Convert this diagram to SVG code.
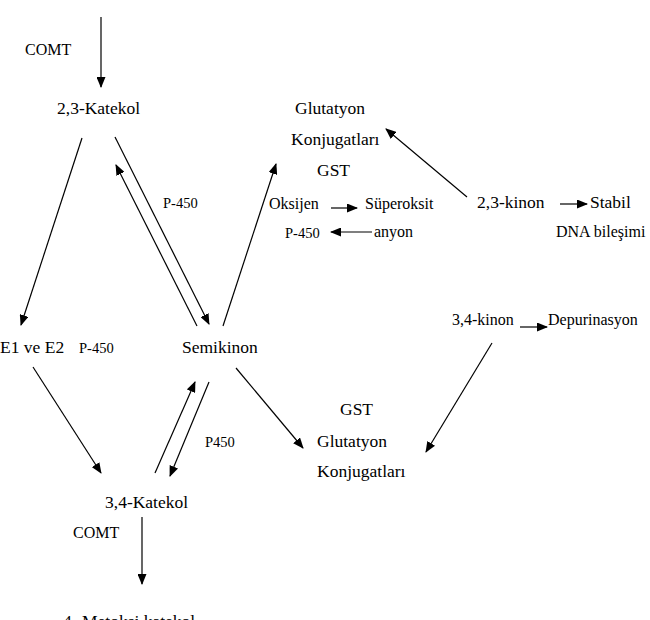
<svg xmlns="http://www.w3.org/2000/svg" width="650" height="620" viewBox="0 0 650 620">
<style>
text{font-family:'Liberation Serif','Times New Roman','DejaVu Serif',Times,serif;fill:#000}
.l{font-size:17.5px}
.m{font-size:16px}
.s{font-size:14.5px}
#connectors line{stroke:#000;stroke-width:1.2;fill:none;marker-end:url(#ah)}
</style>
<defs>
<marker id="ah" markerUnits="userSpaceOnUse" markerWidth="11" markerHeight="9" refX="10" refY="4.5" orient="auto">
<path d="M0,0 L11,4.5 L0,9 z" fill="#000"/>
</marker>
</defs>
<rect width="650" height="620" fill="#fff"/>
<g id="connectors">
<line x1="101" y1="17" x2="101" y2="87"/>
<line x1="82" y1="138" x2="21" y2="325"/>
<line x1="115" y1="137" x2="209" y2="324"/>
<line x1="197" y1="326" x2="116" y2="165"/>
<line x1="223" y1="326" x2="276" y2="164"/>
<line x1="467" y1="197" x2="386" y2="129"/>
<line x1="331" y1="208" x2="357" y2="208"/>
<line x1="372" y1="232" x2="331" y2="232"/>
<line x1="560" y1="204" x2="587" y2="204"/>
<line x1="520" y1="327" x2="547" y2="327"/>
<line x1="492" y1="343" x2="426" y2="452"/>
<line x1="33" y1="367" x2="101" y2="473"/>
<line x1="155" y1="473" x2="195" y2="382"/>
<line x1="209" y1="382" x2="170" y2="476"/>
<line x1="236" y1="368" x2="303" y2="448"/>
<line x1="142" y1="517" x2="142" y2="584"/>
</g>
<g id="comt1"><text class="m" x="25" y="55">COMT</text></g>
<g id="katekol23"><text class="l" x="57" y="114">2,3-Katekol</text></g>
<g id="glut1"><text class="l" x="295" y="114">Glutatyon</text><text class="l" x="291" y="145">Konjugatları</text><text class="l" x="317" y="176">GST</text></g>
<g id="oksijen"><text class="m" x="269" y="209">Oksijen</text></g>
<g id="superoksit"><text class="m" x="365" y="209">Süperoksit</text><text class="m" x="374" y="237">anyon</text></g>
<g id="p450a"><text class="s" x="285" y="238">P-450</text></g>
<g id="kinon23"><text class="l" x="477" y="208">2,3-kinon</text></g>
<g id="stabil"><text class="l" x="590" y="208">Stabil</text><text class="m" x="556" y="237">DNA bileşimi</text></g>
<g id="p450b"><text class="s" x="163" y="208">P-450</text></g>
<g id="e1e2"><text class="l" x="0" y="353">E1 ve E2</text></g>
<g id="p450c"><text class="s" x="79" y="353">P-450</text></g>
<g id="semikinon"><text class="l" x="182" y="353">Semikinon</text></g>
<g id="kinon34"><text class="m" x="452" y="325">3,4-kinon</text></g>
<g id="depurinasyon"><text class="m" x="548" y="325">Depurinasyon</text></g>
<g id="p450d"><text class="s" x="205" y="447">P450</text></g>
<g id="glut2"><text class="l" x="340" y="415">GST</text><text class="l" x="317" y="447">Glutatyon</text><text class="l" x="317" y="477">Konjugatları</text></g>
<g id="katekol34"><text class="l" x="105" y="508">3,4-Katekol</text></g>
<g id="comt2"><text class="m" x="73" y="538">COMT</text></g>
<g id="metoksi"><text class="l" x="63" y="627">4- Metoksi katekol</text></g>
</svg>
